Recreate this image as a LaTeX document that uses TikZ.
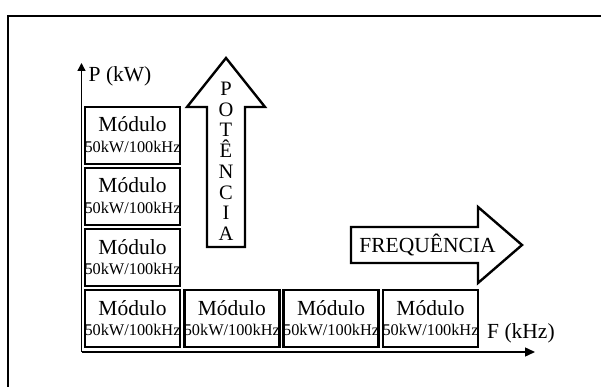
\documentclass[tikz,border=0pt]{standalone}
\usepackage{fontspec}
\setmainfont{Liberation Serif}
\usetikzlibrary{arrows.meta}
\tikzset{
  modbox/.style={draw, line width=2.4pt, minimum width=95pt, minimum height=57pt, inner sep=0pt},
  bigtxt/.style={font=\fontsize{21.5}{23}\selectfont, inner sep=0pt},
  smalltxt/.style={font=\fontsize{16.3}{18}\selectfont, inner sep=0pt},
  axis/.style={line width=1.4pt},
  bigarrow/.style={draw, line width=2.4pt, line join=miter, fill=white}
}
\newcommand\modbox[3]{%
  \node[modbox] (#1) at (#2+47.5,#3+28.5) {};
  \node[bigtxt, anchor=base] (#1m) at (#2+47.5,#3+25) {Módulo};
  \node[smalltxt, anchor=base] (#1k) at (#2+47.5,#3+45.5) {50kW/100kHz};
}
\begin{document}
\begin{tikzpicture}[x=1pt,y=-1pt]
\useasboundingbox (0,0) rectangle (601,387);
% frame
\draw[line width=2.2pt] (8,387) -- (8,16) -- (601,16);
% axes
\coordinate (O) at (81.5,352);
\coordinate (ytop) at (81.5,63);
\coordinate (xend) at (535,352);
\draw[axis, -{Triangle[length=8pt,width=8pt]}] (O) -- (ytop);
\draw[axis, -{Triangle[length=10pt,width=9pt]}] (O) -- (xend);
\node[bigtxt, anchor=base west] (plab) at (88.5,82) {P (kW)};
\node[bigtxt, anchor=base west] (flab) at (487,338) {F (kHz)};
% modules
\modbox{a}{85}{107}
\modbox{b}{85}{168}
\modbox{c}{85}{229}
\modbox{d}{85}{290}
\modbox{e}{184.3}{290}
\modbox{f}{283.6}{290}
\modbox{g}{383}{290}
% power arrow
\draw[bigarrow] (207,247) -- (207,107) -- (187,107) -- (226,58) -- (265,107) -- (245,107) -- (245,247) -- cycle;
\foreach \l [count=\i] in {P,O,T,Ê,N,C,I,A}
  \node[font=\fontsize{20.5}{21}\selectfont, inner sep=0pt, anchor=base] (pl\i) at (226,{95.5+(\i-1)*20.7}) {\l};
% frequency arrow
\draw[bigarrow] (351,227) -- (478,227) -- (478,207) -- (522,245) -- (478,283) -- (478,263) -- (351,263) -- cycle;
\node[bigtxt, anchor=base] (flbl) at (427.5,252) {FREQUÊNCIA};
\end{tikzpicture}
\end{document}
